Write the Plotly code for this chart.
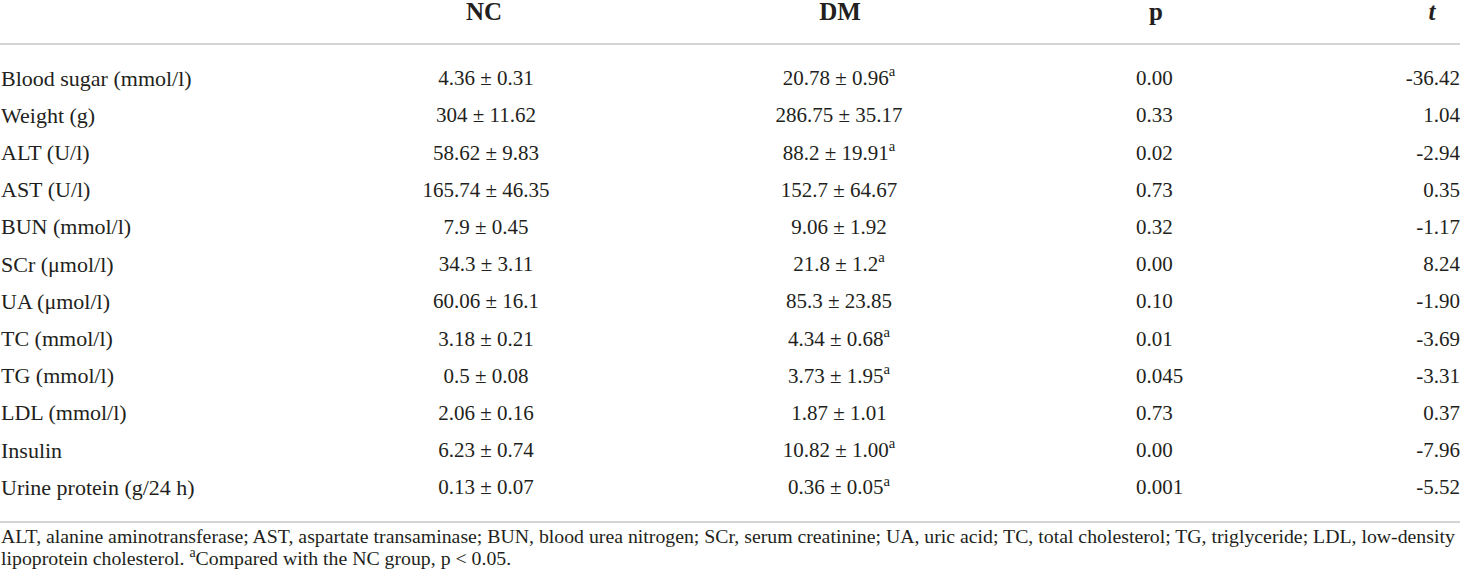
import plotly.graph_objects as go

headers = ["NC", "DM", "p", "<i>t</i>"]
labels = ["Blood sugar (mmol/l)", "Weight (g)", "ALT (U/l)", "AST (U/l)", "BUN (mmol/l)",
          "SCr (μmol/l)", "UA (μmol/l)", "TC (mmol/l)", "TG (mmol/l)", "LDL (mmol/l)",
          "Insulin", "Urine protein (g/24 h)"]
nc = ["4.36 ± 0.31", "304 ± 11.62", "58.62 ± 9.83", "165.74 ± 46.35", "7.9 ± 0.45",
      "34.3 ± 3.11", "60.06 ± 16.1", "3.18 ± 0.21", "0.5 ± 0.08", "2.06 ± 0.16",
      "6.23 ± 0.74", "0.13 ± 0.07"]
dm = ["20.78 ± 0.96<sup>a</sup>", "286.75 ± 35.17", "88.2 ± 19.91<sup>a</sup>", "152.7 ± 64.67",
      "9.06 ± 1.92", "21.8 ± 1.2<sup>a</sup>", "85.3 ± 23.85", "4.34 ± 0.68<sup>a</sup>",
      "3.73 ± 1.95<sup>a</sup>", "1.87 ± 1.01", "10.82 ± 1.00<sup>a</sup>", "0.36 ± 0.05<sup>a</sup>"]
p_vals = ["0.00", "0.33", "0.02", "0.73", "0.32", "0.00", "0.10", "0.01", "0.045", "0.73",
          "0.00", "0.001"]
t_vals = ["-36.42", "1.04", "-2.94", "0.35", "-1.17", "8.24", "-1.90", "-3.69", "-3.31",
          "0.37", "-7.96", "-5.52"]
footnote = ["ALT, alanine aminotransferase; AST, aspartate transaminase; BUN, blood urea nitrogen; "
            "SCr, serum creatinine; UA, uric acid; TC, total cholesterol; TG, triglyceride; LDL, low-density",
            "lipoprotein cholesterol. <sup>a</sup>Compared with the NC group, p &lt; 0.05."]

W, H = 1460, 581
ROW0, ROWH = 80, 37.2  # pixel anchor of first row, row pitch

def py(pix):
    return (pix - ROW0) / ROWH

rows = list(range(len(labels)))
FONT = "Liberation Serif"
COL = "#231f20"

# column anchors and alignment (x anchor, textposition)
col_specs = [(nc, 486, "middle center"), (dm, 839, "middle center"),
             (p_vals, 1136, "middle right"), (t_vals, 1460, "middle left")]
header_x = [484, 840, 1156, 1432]

fig = go.Figure()
fig.add_trace(go.Scatter(x=[1] * len(labels), y=rows, text=labels, mode="text",
                         textposition="middle right", cliponaxis=False,
                         textfont=dict(family=FONT, size=22, color=COL), hoverinfo="skip"))
for vals, cx, pos in col_specs:
    fig.add_trace(go.Scatter(x=[cx] * len(vals), y=rows, text=vals, mode="text",
                             textposition=pos, cliponaxis=False,
                             textfont=dict(family=FONT, size=21, color=COL), hoverinfo="skip"))
fig.add_trace(go.Scatter(x=header_x, y=[py(14)] * 4, text=["<b>%s</b>" % h for h in headers],
                         mode="text", textposition="middle center", cliponaxis=False,
                         textfont=dict(family=FONT, size=25, color=COL), hoverinfo="skip"))
fig.add_trace(go.Scatter(x=[1, 1], y=[py(538), py(560)], text=footnote, mode="text",
                         textposition="middle right", cliponaxis=False,
                         textfont=dict(family=FONT, size=19.8, color=COL), hoverinfo="skip"))

for ypix in (44, 522):
    fig.add_shape(type="line", xref="x", yref="y", x0=0, x1=W, y0=py(ypix), y1=py(ypix),
                  line=dict(color="#d4d4d4", width=2))

fig.update_layout(width=W, height=H, margin=dict(l=0, r=0, t=0, b=0),
                  paper_bgcolor="white", plot_bgcolor="white", showlegend=False,
                  xaxis=dict(range=[0, W], visible=False, fixedrange=True),
                  yaxis=dict(range=[py(H), py(0)], visible=False, fixedrange=True))
fig.write_html("out.html", config={"displayModeBar": False},
               post_script="document.body.style.margin='0';document.body.style.overflow='hidden';")
